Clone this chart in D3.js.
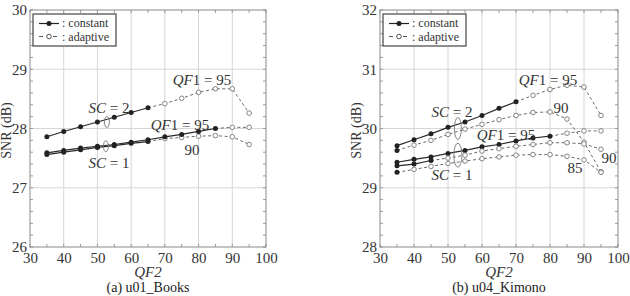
<!DOCTYPE html>
<html>
<head>
<meta charset="utf-8">
<script src="https://cdn.jsdelivr.net/npm/d3@7"></script>
<style>
  body { margin: 0; background: #fff; }
  svg text { font-family: "Liberation Serif", "Times New Roman", "DejaVu Serif", serif; }
</style>
</head>
<body>
<svg id="chart" width="630" height="296"></svg>
<script>
// QF2 values on x axis
const qf2 = [35, 40, 45, 50, 55, 60, 65, 70, 75, 80, 85, 90, 95];
const xTicks = [30, 40, 50, 60, 70, 80, 90, 100];

// (a) u01_Books  -- SNR per QF2, "cut" = last index of the constant part
const booksSc2Qf95 = [27.86, 27.95, 28.03, 28.11, 28.19, 28.27, 28.35, 28.42, 28.51, 28.61, 28.67, 28.67, 28.26];
const booksSc1Qf95 = [27.59, 27.63, 27.67, 27.70, 27.73, 27.77, 27.81, 27.86, 27.90, 27.95, 28.00, 28.02, 28.02];
const booksSc1Qf90 = [27.56, 27.60, 27.64, 27.68, 27.71, 27.75, 27.78, 27.83, 27.85, 27.87, 27.88, 27.86, 27.73];

// (b) u04_Kimono
const kimonoSc2Qf95 = [29.71, 29.81, 29.91, 30.02, 30.11, 30.22, 30.34, 30.45, 30.56, 30.66, 30.73, 30.70, 30.22];
const kimonoSc2Qf90 = [29.63, 29.72, 29.80, 29.90, 29.99, 30.07, 30.15, 30.22, 30.27, 30.28, 30.16, 29.77, 29.27];
const kimonoSc1Qf95 = [29.43, 29.48, 29.52, 29.58, 29.63, 29.69, 29.73, 29.79, 29.84, 29.87, 29.92, 29.96, 29.96];
const kimonoSc1Qf90 = [29.37, 29.40, 29.46, 29.50, 29.55, 29.62, 29.66, 29.70, 29.73, 29.76, 29.76, 29.74, 29.65];
const kimonoSc1Qf85 = [29.26, 29.31, 29.36, 29.41, 29.45, 29.49, 29.52, 29.55, 29.56, 29.56, 29.53, 29.47, 29.26];

const panels = [
  {
    left: 30, right: 266, title: "(a) u01_Books", yDomain: [26, 30],
    series: [
      { values: booksSc2Qf95, cut: 6 },
      { values: booksSc1Qf90, cut: 6 },
      { values: booksSc1Qf95, cut: 10 }
    ],
    notes: [
      { x: 109, y: 113, parts: [["SC", true], [" = 2", false]] },
      { x: 202, y: 85, parts: [["QF", true], ["1 = 95", false]] },
      { x: 180, y: 130, parts: [["QF", true], ["1 = 95", false]] },
      { x: 192, y: 155, parts: [["90", false]] },
      { x: 109, y: 168, parts: [["SC", true], [" = 1", false]] }
    ],
    rings: [{ x: 52.8, y: 28.11, rx: 2.5, ry: 5.5 }, { x: 52.5, y: 27.70, rx: 2.5, ry: 5.5 }]
  },
  {
    left: 380, right: 618, title: "(b) u04_Kimono", yDomain: [28, 32],
    series: [
      { values: kimonoSc2Qf95, cut: 7 },
      { values: kimonoSc2Qf90, cut: 0 },
      { values: kimonoSc1Qf95, cut: 9 },
      { values: kimonoSc1Qf90, cut: 2 },
      { values: kimonoSc1Qf85, cut: 0 }
    ],
    notes: [
      { x: 548, y: 85, parts: [["QF", true], ["1 = 95", false]] },
      { x: 561, y: 113, parts: [["90", false]] },
      { x: 452, y: 117, parts: [["SC", true], [" = 2", false]] },
      { x: 506, y: 140, parts: [["QF", true], ["1 = 95", false]] },
      { x: 452, y: 180, parts: [["SC", true], [" = 1", false]] },
      { x: 575, y: 173, parts: [["85", false]] },
      { x: 609, y: 163, parts: [["90", false]] }
    ],
    rings: [{ x: 52.9, y: 30.0, rx: 3.5, ry: 11 }, { x: 52.9, y: 29.55, rx: 4, ry: 12 }]
  }
];

const plotTop = 10, plotBottom = 247;
const svg = d3.select("#chart");

panels.forEach(p => {
  const x = d3.scaleLinear().domain([30, 100]).range([p.left, p.right]);
  const y = d3.scaleLinear().domain(p.yDomain).range([plotBottom, plotTop]);
  const g = svg.append("g");

  // grid
  g.selectAll(".gx").data(xTicks.slice(1, -1)).enter().append("line")
    .attr("x1", d => x(d)).attr("x2", d => x(d))
    .attr("y1", plotTop).attr("y2", plotBottom)
    .attr("stroke", "#d6d6d6").attr("stroke-width", 1);
  const yMajor = d3.range(p.yDomain[0] + 1, p.yDomain[1]);
  g.selectAll(".gy").data(yMajor).enter().append("line")
    .attr("x1", p.left).attr("x2", p.right)
    .attr("y1", d => y(d)).attr("y2", d => y(d))
    .attr("stroke", "#d6d6d6").attr("stroke-width", 1);

  // minor ticks on the frame
  const yMinor = d3.range(p.yDomain[0], p.yDomain[1] + 0.001, 0.2);
  yMinor.forEach(v => {
    g.append("line").attr("x1", p.left).attr("x2", p.left + 3)
      .attr("y1", y(v)).attr("y2", y(v)).attr("stroke", "#999");
    g.append("line").attr("x1", p.right).attr("x2", p.right - 3)
      .attr("y1", y(v)).attr("y2", y(v)).attr("stroke", "#999");
  });
  d3.range(30, 101, 5).forEach(v => {
    g.append("line").attr("x1", x(v)).attr("x2", x(v))
      .attr("y1", plotBottom).attr("y2", plotBottom - 3).attr("stroke", "#999");
    g.append("line").attr("x1", x(v)).attr("x2", x(v))
      .attr("y1", plotTop).attr("y2", plotTop + 3).attr("stroke", "#999");
  });

  g.append("rect").attr("x", p.left).attr("y", plotTop)
    .attr("width", p.right - p.left).attr("height", plotBottom - plotTop)
    .attr("fill", "none").attr("stroke", "#8a8a8a").attr("stroke-width", 1);

  // axes (labels only)
  const xAxis = d3.axisBottom(x).tickValues(xTicks).tickSize(0).tickPadding(5);
  g.append("g").attr("transform", `translate(0,${plotBottom})`).call(xAxis)
    .call(a => a.select(".domain").remove())
    .selectAll("text").attr("font-size", 15).attr("fill", "#333");
  const yAxis = d3.axisLeft(y).ticks(4).tickFormat(d3.format("d")).tickSize(0).tickPadding(3);
  g.append("g").attr("transform", `translate(${p.left},0)`).call(yAxis)
    .call(a => a.select(".domain").remove())
    .selectAll("text").attr("font-size", 15).attr("fill", "#333");

  // axis titles
  g.append("text").attr("transform", `translate(${p.left - 19},${(plotTop + plotBottom) / 2 + 2}) rotate(-90)`)
    .attr("text-anchor", "middle").attr("font-size", 14).attr("fill", "#333").text("SNR (dB)");
  const xt = g.append("text").attr("x", (p.left + p.right) / 2).attr("y", 277)
    .attr("text-anchor", "middle").attr("font-size", 15).attr("fill", "#333");
  xt.append("tspan").attr("font-style", "italic").text("QF");
  xt.append("tspan").attr("font-style", "italic").text("2");
  g.append("text").attr("x", (p.left + p.right) / 2).attr("y", 292)
    .attr("text-anchor", "middle").attr("font-size", 14).attr("fill", "#222").text(p.title);

  const line = d3.line().x(d => x(d.q)).y(d => y(d.v));

  p.series.forEach(s => {
    const pts = qf2.map((q, i) => ({ q, v: s.values[i], i }));
    const cons = pts.filter(d => d.i <= s.cut);
    const adap = pts.filter(d => d.i >= s.cut);
    g.append("path").datum(adap).attr("d", line).attr("fill", "none")
      .attr("stroke", "#6a6a6a").attr("stroke-width", 1).attr("stroke-dasharray", "3,2.5");
    if (cons.length > 1) {
      g.append("path").datum(cons).attr("d", line).attr("fill", "none")
        .attr("stroke", "#2a2a2a").attr("stroke-width", 1.2);
    }
    g.selectAll(null).data(adap.slice(1)).enter().append("circle")
      .attr("cx", d => x(d.q)).attr("cy", d => y(d.v)).attr("r", 2.3)
      .attr("fill", "#fff").attr("stroke", "#777").attr("stroke-width", 0.9);
    g.selectAll(null).data(cons).enter().append("circle")
      .attr("cx", d => x(d.q)).attr("cy", d => y(d.v)).attr("r", 2.5)
      .attr("fill", "#222");
  });

  // ellipses marking the SC groups
  p.rings.forEach(r => {
    g.append("ellipse").attr("cx", x(r.x)).attr("cy", y(r.y))
      .attr("rx", r.rx).attr("ry", r.ry)
      .attr("fill", "none").attr("stroke", "#777").attr("stroke-width", 0.9);
  });

  // annotations
  p.notes.forEach(n => {
    const t = g.append("text").attr("x", n.x).attr("y", n.y)
      .attr("text-anchor", "middle").attr("font-size", 15).attr("fill", "#333");
    n.parts.forEach(pt => {
      t.append("tspan").attr("font-style", pt[1] ? "italic" : "normal").text(pt[0]);
    });
  });

  // legend
  const lx = p.left + 3, ly = plotTop + 4;
  const lg = g.append("g");
  lg.append("rect").attr("x", lx).attr("y", ly).attr("width", 83).attr("height", 32)
    .attr("fill", "#fff").attr("stroke", "#444").attr("stroke-width", 1.2);
  lg.append("line").attr("x1", lx + 6).attr("x2", lx + 26).attr("y1", ly + 9.5).attr("y2", ly + 9.5)
    .attr("stroke", "#222").attr("stroke-width", 1.2);
  lg.append("circle").attr("cx", lx + 16).attr("cy", ly + 9.5).attr("r", 2.5).attr("fill", "#222");
  lg.append("line").attr("x1", lx + 6).attr("x2", lx + 26).attr("y1", ly + 22.5).attr("y2", ly + 22.5)
    .attr("stroke", "#555").attr("stroke-width", 1.1).attr("stroke-dasharray", "4,3");
  lg.append("circle").attr("cx", lx + 16).attr("cy", ly + 22.5).attr("r", 2.3)
    .attr("fill", "#fff").attr("stroke", "#555");
  lg.append("text").attr("x", lx + 29).attr("y", ly + 13).attr("font-size", 12)
    .attr("fill", "#333").text(": constant");
  lg.append("text").attr("x", lx + 29).attr("y", ly + 27).attr("font-size", 12)
    .attr("fill", "#333").text(": adaptive");
});
</script>
</body>
</html>
